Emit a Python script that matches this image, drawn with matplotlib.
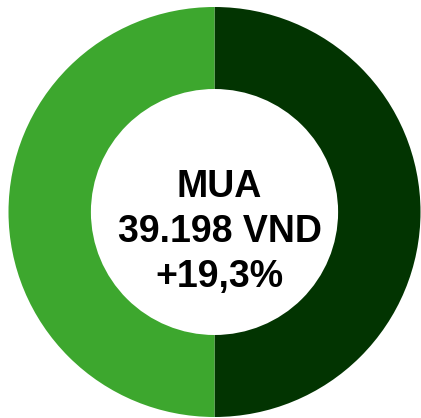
import matplotlib
matplotlib.use("Agg")
import matplotlib.pyplot as plt

categories = ["A", "B"]
values = [50, 50]
colors = ["#023401", "#3DA72E"]
center_lines = ["MUA", "39.198 VND", "+19,3%"]

W, H = 421, 418
fig = plt.figure(figsize=(W / 100, H / 100), dpi=100)
cx, cy, rx, ry = 214.5, 212, 206, 205
ax = fig.add_axes([(cx - rx) / W, (H - cy - ry) / H, 2 * rx / W, 2 * ry / H])
ax.pie(values, colors=colors, startangle=90, counterclock=False, radius=1,
       wedgeprops=dict(width=0.4, linewidth=0))
ax.set_xlim(-1, 1)
ax.set_ylim(-1, 1)
ax.set_aspect("auto")
ax.axis("off")

baselines = [197, 242, 287]
for line, b in zip(center_lines, baselines):
    ax.text(5 / rx, (cy - b) / ry, line, ha="center", va="baseline",
            fontsize=27, fontweight="bold", family=["Liberation Sans", "DejaVu Sans"],
            color="black")

fig.savefig("out.png", dpi=100)
